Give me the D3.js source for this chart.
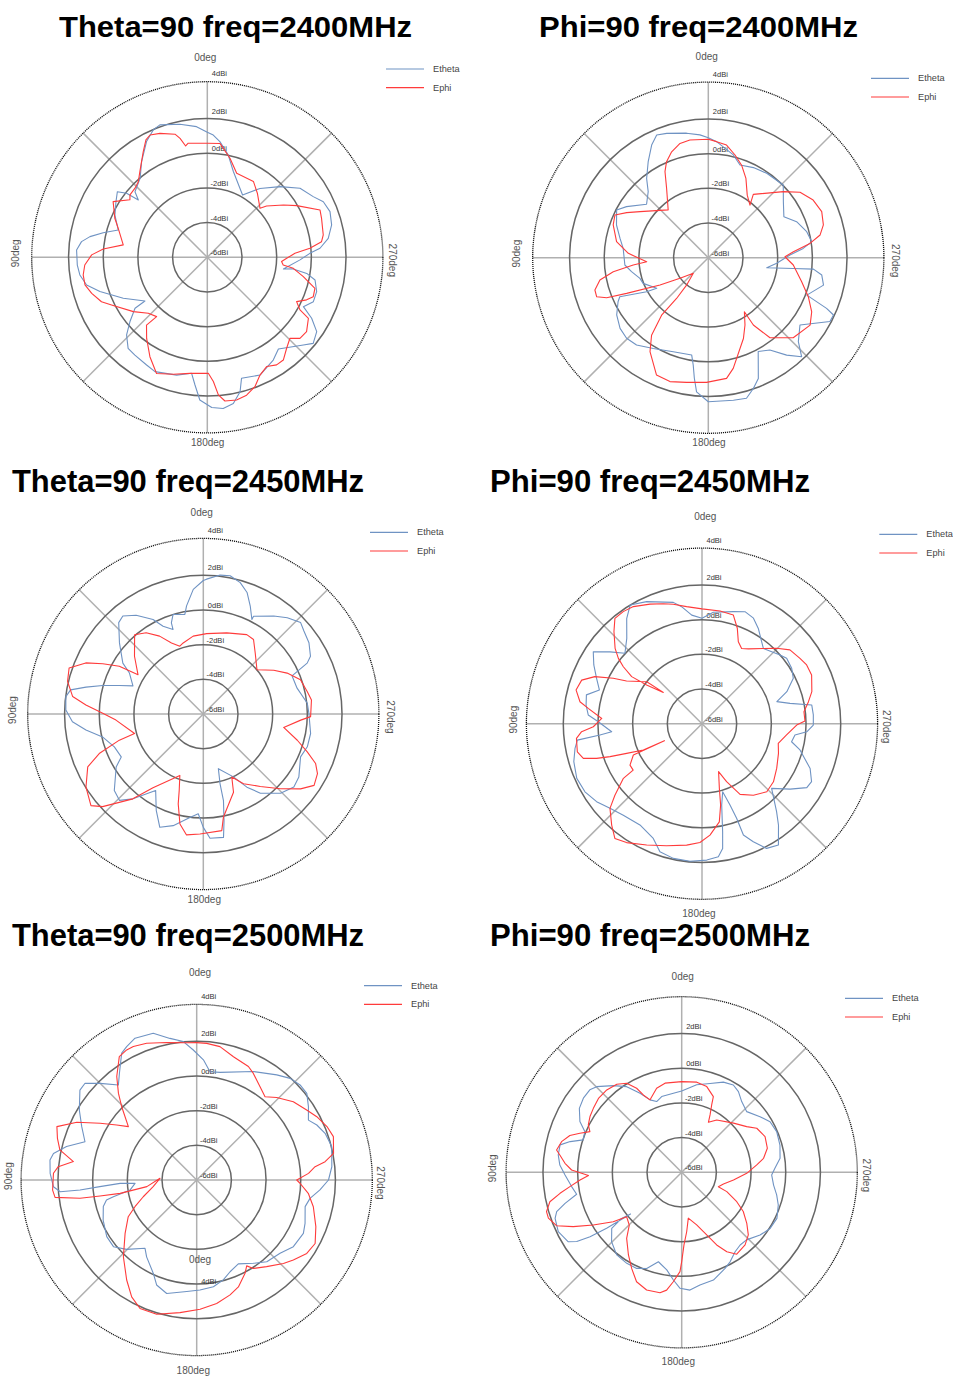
<!DOCTYPE html>
<html><head><meta charset="utf-8">
<script src="https://cdn.jsdelivr.net/npm/d3@7"></script>
<style>html,body{margin:0;padding:0;background:#fff}svg{display:block}</style>
</head><body>
<svg id="c" width="953" height="1376"></svg>
<script>
// ---------- data ----------
const ringLevels = [-6, -4, -2, 0, 2, 4];
const ringLabels = ["-6dBi", "-4dBi", "-2dBi", "0dBi", "2dBi", "4dBi"];
const spokeAngles = [0, 45, 90, 135, 180, 225, 270, 315];
const angleLabels = ["0deg", "90deg", "180deg", "270deg"];
const seriesNames = ["Etheta", "Ephi"];
const titles = ["Theta=90 freq=2400MHz", "Phi=90 freq=2400MHz", "Theta=90 freq=2450MHz",
                "Phi=90 freq=2450MHz", "Theta=90 freq=2500MHz", "Phi=90 freq=2500MHz"];

// [angle (deg, counter-clockwise from top), gain (dBi)]
const t2400_etheta = [[0,1.21],[4.7,1.56],[11.6,1.83],[19.7,2.11],[23,1.98],[27.7,1.54],[34.5,0.69],[40.4,-0.02],[47.8,-0.37],[50.3,-0.83],[51.6,-0.06],[53.9,0.42],[58.6,0.17],[65.4,-0.14],[73,-0.63],[76.7,0.17],[80,0.87],[82.9,1.31],[86.8,1.55],[93.4,1.51],[97.9,1.42],[102.9,1.14],[107.7,0.5],[116,-0.61],[125,-1.61],[125.2,-0.9],[129.8,-0.19],[133.9,0.46],[139,0.96],[143.5,1.02],[150.6,1.13],[155.4,1.25],[165.4,1.02],[172.3,0.75],[174.5,1.4],[177,2.24],[181.7,2.67],[186,2.77],[190.1,2.56],[193.7,1.98],[195.8,1.25],[204.1,1.44],[212.7,1.04],[217.8,0.69],[227.6,1.5],[230.9,1.87],[235.8,1.63],[239.7,0.97],[242.8,0.23],[247.3,0.63],[252.6,0.61],[258.1,0.35],[260.8,-0.19],[262.3,-1.0],[261.3,-1.56],[268.4,-0.65],[272.2,-0.08],[274.6,0.52],[278.9,1.06],[284.6,1.41],[290.4,1.55],[295.6,1.42],[299.8,1.04],[306.7,0.67],[314.2,-0.15],[322.6,-1.0],[330.5,-1.87],[334.7,-1.6],[343.1,-0.83],[348.4,0.02],[353.8,0.71],[357.2,1.06]];
const t2400_ephi = [[0,0.58],[9.5,0.67],[11,0.54],[12.9,1.04],[14.7,1.34],[20.9,1.65],[25.1,1.79],[27.6,1.64],[31.2,1.13],[38.2,0.29],[42.4,-0.1],[46.3,-0.23],[51.1,-0.27],[53.4,-0.44],[59.4,0.31],[67.1,-0.21],[72,-0.6],[81.6,-1.1],[85.4,0.02],[88.8,0.67],[93.6,1.08],[98.1,1.23],[102.7,1.23],[107.3,0.98],[112.8,0.62],[116.5,0.17],[126.3,-0.71],[133.5,-1.31],[139.5,-1.5],[138.1,-0.75],[143.2,-0.16],[150,0.62],[156.4,1.31],[163.8,1.02],[171.5,0.77],[180.5,0.69],[182.8,1.17],[184.6,1.96],[187,2.35],[191.6,2.4],[195.9,2.27],[200.2,1.95],[204.1,1.44],[208.5,1.17],[212.8,1.38],[216.5,1.37],[221.1,0.96],[225.6,0.67],[228.8,1.1],[233.2,1.15],[238.9,0.81],[240.4,0.15],[243.6,-0.25],[246.8,0.23],[249.6,0.52],[253.9,0.46],[258.6,-0.35],[262.7,-1.0],[264.2,-1.6],[266.7,-1.71],[269.3,-1.42],[272.6,-0.94],[275,-0.06],[277.8,0.65],[280.9,0.81],[288.8,0.96],[292.8,1.05],[300,-0.04],[304.5,-0.67],[310.9,-1.48],[312.9,-1.85],[322,-1.31],[328.7,-0.88],[340.7,-0.87],[347.1,-0.14],[353.6,0.6]];
const p2400_etheta = [[0,0.92],[3.9,1.1],[9.9,1.29],[18.5,1.56],[22.8,1.68],[26.7,1.27],[32,0.54],[37.9,-0.21],[42.3,-0.85],[49.1,-1.29],[58,-0.44],[62.5,-0.04],[70.4,-0.38],[77.7,-0.79],[83.7,-1.06],[95,-1.17],[100.3,-1.5],[106.8,-1.88],[111.5,-1.96],[120.7,-2.54],[118.9,-1.94],[113.8,-0.42],[116,-0.21],[122,0.23],[128.7,0.52],[134.6,0.62],[140.6,0.52],[148.8,0.12],[159.6,-0.21],[170.3,-0.31],[172,0.25],[173.4,1.0],[175,1.77],[180,2.31],[190,2.35],[195.2,2.4],[199,1.98],[202.5,1.54],[208,0.13],[213.7,0.4],[218.8,1.21],[223.3,1.85],[227,1.1],[233.7,0.56],[242.3,1.92],[245.4,1.94],[246.8,1.42],[249.2,0.08],[256.6,0.83],[261.3,0.62],[263.8,0.1],[262.8,-1.06],[260.3,-2.58],[265.3,-2.04],[271.9,-1.29],[275.6,-0.5],[278.8,0.04],[284.8,-0.13],[292.2,-0.5],[298.5,-1.04],[306.7,-0.6],[314.1,0.02],[325.3,-0.08],[333.4,-0.19],[341.1,-0.35],[346.3,0.1],[355.9,0.71]];
const p2400_ephi = [[0,0.83],[8.9,0.87],[13.9,0.79],[19.1,0.46],[23.5,0.04],[26.7,-0.44],[31,-1.33],[40,-2.4],[56,-1.25],[61.1,-0.62],[65.4,-0.08],[71,-0.2],[80.1,-0.63],[86.9,-1.38],[93.7,-2.44],[95.6,-1.65],[98.4,-0.46],[101.6,0.38],[105.9,0.8],[109.3,0.82],[111.5,0.3],[113.6,-0.86],[119.5,-2.8],[126.1,-3.98],[136.2,-4.75],[141.6,-3.98],[142.1,-3.02],[140.9,-1.73],[143.8,-0.46],[148.2,0.38],[156.2,1.4],[162.8,1.48],[170.1,1.3],[179.2,1.19],[188.6,1.04],[192.7,0.54],[203.5,-0.92],[208.6,-1.58],[213.7,-2.25],[213.8,-1.33],[217.6,-0.17],[226.7,0.73],[236.5,1.04],[242.4,0.73],[248.7,0.19],[255.6,-0.44],[265.1,-1.08],[270.7,-1.58],[274,-1.08],[278,-0.08],[281.5,0.58],[285.9,0.9],[292.1,1.06],[298.8,0.9],[305.5,0.5],[311.3,-0.23],[324.6,-1.52],[321.6,-2.13],[328.1,-1.75],[334.6,-0.94],[340.2,-0.33],[345.4,0.12],[350.8,0.58],[355.9,0.71]];
const t2450_etheta = [[0,1.7],[4.6,1.21],[8.8,0.31],[10.5,-0.16],[16.9,0.0],[19.3,-0.43],[19.7,-0.82],[24.6,-0.43],[28,0.17],[34.2,0.89],[39.4,1.31],[42.8,1.18],[49.7,0.34],[57.7,-0.51],[61,-1.13],[68.2,-1.63],[71.2,-0.89],[74.2,0.03],[77.1,0.94],[79.7,1.78],[82.8,1.99],[88.3,1.93],[93.4,1.56],[97.8,0.83],[102.8,-0.04],[110.3,-0.53],[117.6,-0.66],[121.3,-0.12],[130.7,0.77],[135.9,0.94],[140.3,0.36],[148.1,-0.8],[154,0.19],[159,1.0],[164.9,0.67],[172.6,0.02],[177.1,-0.24],[180,0.54],[183.1,1.18],[189.3,1.21],[191,0.27],[193.1,-0.87],[193.5,-1.86],[195.4,-2.73],[205.6,-1.98],[210.8,-1.09],[215.8,-0.37],[224.3,0.38],[231.1,0.71],[236.6,0.6],[246.2,0.13],[252.5,0.29],[259.7,0.29],[270.4,0.09],[275.9,0.03],[285.4,-0.39],[293.3,-0.43],[296.1,0.67],[298.3,1.02],[304,1.35],[309.5,1.52],[313.2,1.7],[318.9,1.37],[324.3,0.96],[332.8,0.34],[332.8,0.13],[336.5,0.79],[340.2,1.45],[344.3,1.87],[349,2.12],[353.1,2.07],[358.6,1.78]];
const t2450_ephi = [[357.6,-1.36],[7.4,-1.47],[15.8,-1.74],[19.1,-1.86],[24.1,-1.51],[29.3,-0.85],[35.1,-0.27],[40.9,0.05],[50,-0.82],[59,-1.61],[60.4,-0.43],[63.4,0.48],[66.5,1.39],[71.1,2.18],[76.5,2.05],[82.4,1.6],[85.6,0.79],[89.6,-0.2],[94,-0.95],[105.8,-1.88],[107.3,-0.93],[110.8,0.42],[114.6,1.33],[121.9,1.97],[129.2,2.36],[132.6,1.89],[140.3,0.36],[145.7,-0.85],[159.1,-2.21],[162.5,-1.38],[164.4,-0.62],[168,0.48],[172.1,1.04],[178.4,0.92],[189,0.81],[191,0.07],[201.1,-1.16],[204.3,-2.01],[210,-1.36],[218.2,-0.68],[225.9,0.19],[232.4,1.08],[237.2,1.6],[242.4,1.43],[246.2,1.08],[250,0.38],[254.4,-0.37],[260.5,-1.3],[266.4,-0.37],[268.6,0.19],[277.4,0.29],[282.2,0.13],[289.4,-0.06],[296,-0.62],[301.8,-1.22],[309.5,-1.99],[319.6,-1.38],[326,-0.82],[331.3,-0.78],[343.9,-1.13]];
const p2450_etheta = [[0,0.08],[5.4,0.29],[9.9,0.85],[13.3,1.19],[24.4,1.73],[31.2,2.0],[35.6,1.46],[41.4,0.56],[47.6,0.02],[52,0.73],[56.5,1.52],[61.5,1.1],[66.7,0.62],[71.8,0.23],[76,0.87],[80.9,0.77],[85.6,0.58],[88.9,-0.02],[95.1,-0.77],[96.3,-0.08],[97.5,1.25],[101,1.46],[106.5,1.71],[113.6,1.88],[120.2,1.81],[126.5,1.56],[132.6,1.21],[139.3,0.96],[148.5,0.85],[157,1.19],[161.8,1.77],[168,1.94],[175,1.96],[182,1.87],[187,1.73],[189.4,1.29],[190.8,0.35],[193.6,-1.17],[196.9,-1.9],[199,-1.04],[200.1,-0.19],[200.4,0.85],[203.5,1.42],[207.4,2.1],[212.2,2.27],[217,1.33],[220.3,0.65],[227.1,-0.52],[233.4,0.33],[238.6,1.08],[242.1,1.15],[247.5,0.75],[255,-0.15],[258.6,-0.73],[263.1,-0.6],[265.6,0.06],[269.3,0.42],[274.5,0.44],[279.7,0.42],[283,-0.79],[286.4,-1.5],[290.7,-0.77],[296.4,-0.12],[301.7,0.08],[307.7,0.17],[311.4,0.0],[320.8,-0.4],[324,-0.15],[329.4,0.38],[334,0.77],[339,0.92],[344.4,0.71],[354.2,0.46]];
const p2450_ephi = [[0,0.62],[7.5,0.81],[13.5,1.08],[17.9,1.27],[23.5,1.52],[30.4,1.83],[35.1,1.9],[39.6,1.88],[43.7,1.35],[49.1,0.63],[52,0.12],[54.1,-0.4],[56.2,-1.12],[55,-2.1],[51,-3.13],[52.8,-2.0],[60.5,-1.0],[62.9,-0.25],[66.3,0.75],[70.1,1.38],[75,1.52],[79.8,1.15],[82.3,0.62],[87,-0.21],[91.6,0.27],[93.8,0.96],[96.7,1.29],[102.7,1.37],[106.3,1.13],[108.2,0.4],[109.7,-0.37],[111.5,-1.33],[114.2,-2.29],[114.3,-3.62],[114.5,-1.65],[119.9,-1.21],[124,-1.21],[124.8,-0.48],[129.4,0.5],[132.6,1.21],[138.3,1.83],[142.8,2.31],[147.6,2.12],[155.5,1.69],[163.8,1.33],[172.8,1.06],[179,0.85],[184.1,0.44],[190,-0.25],[192.9,-1.19],[195,-2.13],[199.1,-3.08],[203,-2.37],[208.3,-1.37],[215.7,-0.92],[223.6,-0.58],[230.9,-0.69],[239.1,-0.98],[248.8,-1.27],[255.6,-1.46],[262.4,-1.08],[269.2,-0.54],[271.5,-0.06],[276.7,-0.08],[281.7,0.27],[286.3,0.6],[294,0.92],[299.3,0.92],[303.7,0.79],[310,0.62],[315.3,0.12],[320.8,-0.4],[328.2,-0.92],[332.2,-1.1],[336.1,-0.83],[339.7,-0.13],[343.9,0.52],[350.9,0.58]];
const t2500_etheta = [[1.5,1.5],[5.5,2.02],[10.7,2.31],[16.5,2.83],[23.5,2.92],[27.7,2.69],[30.6,2.5],[35.9,1.6],[39.5,1.1],[45,1.88],[49.1,2.52],[52.4,2.5],[59.2,1.88],[65.1,1.31],[71.1,0.81],[75.6,1.75],[79.5,2.4],[82.2,2.54],[87.4,2.46],[92.7,2.27],[94.9,1.9],[94.9,0.75],[93.9,-0.4],[92.5,-1.58],[93.1,-2.44],[98.5,-2.12],[101.3,-1.1],[102.5,-0.67],[105.9,-0.4],[113.2,-0.13],[122.2,0.13],[128.7,0.15],[134.7,-0.31],[142.9,-1.06],[146.9,-0.71],[155.1,-0.06],[159.1,0.48],[165.2,0.77],[174.9,0.46],[181.7,0.35],[188.9,0.23],[194.9,-0.04],[200,-0.37],[206.4,-0.6],[214.2,-0.19],[220.6,0.21],[228.7,0.4],[235.4,0.77],[243.4,0.88],[248.2,0.73],[256.2,0.44],[260.8,0.62],[265.4,1.13],[270,1.6],[275.6,1.83],[283.9,2.02],[290,1.88],[294.6,1.62],[298.2,1.31],[303.3,1.71],[308.2,2.08],[312.6,2.1],[317.4,1.96],[322.7,1.62],[332.4,1.06],[347.7,0.35],[353,0.29],[356.8,0.94]];
const t2500_ephi = [[0,1.92],[4.2,1.94],[12.3,2.12],[20.1,2.4],[25.4,2.52],[28.3,2.52],[32.1,2.4],[37.7,1.54],[42.1,0.73],[45.6,0.06],[52,-1.0],[55.5,-0.4],[59.6,0.46],[64.3,1.67],[69.1,2.63],[73.4,2.38],[77.6,2.08],[81.5,1.19],[84.5,2.02],[87.3,2.27],[94,2.33],[97,2.23],[98.9,0.81],[99.4,-0.35],[99.9,-1.52],[97.6,-3.1],[87.4,-3.88],[98.7,-3.46],[107.4,-2.77],[113.4,-2.12],[118.2,-1.52],[126.7,-0.85],[136.3,0.12],[145,1.04],[150.9,1.71],[156.2,2.1],[163.4,2.08],[172.8,1.71],[181.5,1.46],[189.2,1.21],[196.2,0.9],[201.3,0.62],[207.4,0.06],[210.2,-0.27],[212.7,0.06],[218.9,0.42],[226.1,0.94],[230.4,1.23],[236.3,1.63],[241.8,1.75],[248.6,1.38],[257.1,0.9],[263.2,0.48],[268.2,-0.04],[270,-0.23],[273.4,0.46],[276.4,0.87],[278.1,1.48],[281,2.04],[287.6,2.27],[292.3,2.12],[297.8,1.83],[302.5,1.52],[309,1.17],[315.9,0.63],[320.6,0.21],[325.8,0.5],[332,0.96],[335.5,1.19],[343.4,1.42],[350.1,1.81],[355.8,1.9]];
const p2500_etheta = [[0,-1.31],[6,-1.42],[14.8,-1.48],[19.5,-1.67],[23.6,-1.44],[27.8,-0.85],[32.7,-0.13],[38.3,0.37],[44.8,0.96],[48.1,1.12],[53,1.1],[58,0.96],[63.5,0.56],[67.2,0.06],[71.8,-0.02],[74.6,0.67],[77.3,1.19],[82,1.19],[86.6,1.04],[91.3,0.73],[97.4,0.4],[101.8,0.19],[104.9,0.96],[107.5,1.56],[110,1.77],[115.7,1.9],[121.5,1.67],[123.4,1.25],[125.1,0.46],[126.7,-0.6],[129.2,-2.19],[127.5,-1.63],[128.7,-0.83],[134.7,-0.31],[141.8,0.06],[148.9,0.13],[154.9,0.12],[160,-0.1],[165.4,-0.67],[171.3,-0.31],[175.6,0.23],[179.2,0.69],[184,0.81],[189.2,0.58],[196.4,0.48],[204.3,0.08],[208.4,-0.13],[213.9,-0.48],[218.8,-0.62],[223.8,-0.6],[231.3,-0.21],[237.6,0.04],[244.2,0.1],[251.3,-0.12],[256.6,-0.37],[262.1,-0.65],[268.3,-0.81],[272.5,-0.62],[278.1,-0.27],[285.5,-0.12],[293.2,-0.04],[299.8,-0.13],[305.4,-0.46],[313,-0.87],[319.7,-0.65],[324.9,-0.31],[329.4,-0.15],[335.2,-0.27],[342.3,-0.62],[350.3,-0.88]];
const p2500_ephi = [[0,-0.77],[10.6,-0.77],[16.6,-0.94],[23.6,-1.44],[26.4,-1.02],[28.2,-0.5],[31.7,0.04],[36.4,0.31],[42.3,0.42],[48.4,0.42],[54.1,0.29],[58.7,0.19],[63.1,0.04],[66.1,-0.21],[69,0.29],[71.8,0.79],[75.7,1.15],[79.9,1.33],[81.9,1.1],[85.6,0.75],[88.8,0.35],[92,-0.62],[94.3,-0.12],[97.3,0.5],[99.8,1.12],[102.6,1.79],[106.2,2.12],[109,2.13],[113.1,1.85],[116.6,1.0],[120.8,-0.06],[125.8,-1.13],[128.9,-1.92],[135.2,-1.71],[140.2,-1.04],[147.2,-0.33],[152.5,0.25],[157.6,0.83],[163.4,1.08],[169.8,1.06],[172.7,0.85],[175.6,0.33],[179,-0.27],[180,-0.85],[181.8,-1.81],[184.8,-2.56],[188.2,-3.33],[195.9,-2.85],[201.8,-2.12],[205.7,-1.35],[209.6,-0.73],[213.9,-0.31],[221.1,-0.44],[226.8,-0.73],[231.9,-1.23],[237.5,-1.79],[241.9,-2.4],[246.8,-3.17],[248.6,-3.73],[254.4,-3.5],[261.6,-2.98],[269.1,-2.25],[275.6,-1.65],[279.7,-1.21],[285.7,-0.87],[293.2,-0.77],[300.4,-0.98],[305.1,-1.42],[313.5,-1.88],[326.2,-2.37],[331.9,-2.73],[333.7,-2.31],[336,-1.75],[337.3,-1.27],[343.7,-0.85],[350.5,-0.73]];

// ---------- layout ----------
const panels = [
  {title: titles[0], etheta: t2400_etheta, ephi: t2400_ephi, cx: 207.3, cy: 257.3, lgx: 386, lgy: 69,
   tx: 59, ty: 36.5, tw: 353, ts: 29, lt: -200, lb: 185, lr: 185.4, ll: -192, ltx: -2, lbx: 0.4, show4: true},
  {title: titles[1], etheta: p2400_etheta, ephi: p2400_ephi, cx: 708.3, cy: 257.7, lgx: 871, lgy: 78.3,
   tx: 539, ty: 36.5, tw: 319, ts: 29, lt: -201, lb: 184.6, lr: 186.7, ll: -191.6, ltx: -1.6, lbx: 0.7, show4: true},
  {title: titles[2], etheta: t2450_etheta, ephi: t2450_ephi, cx: 203.3, cy: 714, lgx: 370, lgy: 532.3,
   tx: 12, ty: 492.3, tw: 352, ts: 32, lt: -201.3, lb: 185, lr: 186.7, ll: -191, ltx: -1.6, lbx: 1, show4: true},
  {title: titles[3], etheta: p2450_etheta, ephi: p2450_ephi, cx: 702, cy: 723.7, lgx: 879.3, lgy: 534.3,
   tx: 490, ty: 492.3, tw: 320, ts: 32, lt: -207, lb: 189.5, lr: 184.7, ll: -188.7, ltx: 3.3, lbx: -3, show4: true},
  {title: titles[4], etheta: t2500_etheta, ephi: t2500_ephi, cx: 196.7, cy: 1180, lgx: 364, lgy: 985.7,
   tx: 12, ty: 946, tw: 352, ts: 32, lt: -207.3, lb: 190, lr: 183.3, ll: -188.4, ltx: 3.3, lbx: -3.4, show4: true, extra: true},
  {title: titles[5], etheta: p2500_etheta, ephi: p2500_ephi, cx: 681.7, cy: 1172.3, lgx: 845, lgy: 998.3,
   tx: 490, ty: 946, tw: 320, ts: 32, lt: -195.6, lb: 189.4, lr: 185, ll: -189, ltx: 1, lbx: -3.4, show4: false}
];

const colors = {Etheta: "#6f93c3", Ephi: "#ff3b3b"};
const FONT = "'Liberation Sans', Arial, sans-serif";

const svg = d3.select("#c");
const rScale = d3.scaleLinear().domain([-6, 4]).range([0, 173.4]);
const aScale = d3.scaleLinear().domain([0, 360]).range([0, 2 * Math.PI]);
const outerR = rScale(4) + 2.2;

const radial = d3.lineRadial()
  .angle(d => -aScale(d[0]))
  .radius(d => rScale(d[1]))
  .curve(d3.curveLinearClosed);

panels.forEach(p => {
  // title
  svg.append("text").attr("x", p.tx).attr("y", p.ty)
    .attr("font-family", FONT).attr("font-weight", "bold").attr("font-size", p.ts)
    .attr("textLength", p.tw).attr("lengthAdjust", "spacingAndGlyphs")
    .attr("fill", "#000").text(p.title);

  const g = svg.append("g").attr("transform", `translate(${p.cx},${p.cy})`);

  // spokes
  g.selectAll("line.spoke").data(spokeAngles).join("line").attr("class", "spoke")
    .attr("x1", 0).attr("y1", 0)
    .attr("x2", d => -Math.sin(aScale(d)) * outerR)
    .attr("y2", d => -Math.cos(aScale(d)) * outerR)
    .attr("stroke", "#b0b0b0").attr("stroke-width", 1.5);

  // solid rings
  g.selectAll("circle.ring").data(ringLevels.filter(v => v > -6 && v < 4)).join("circle")
    .attr("class", "ring").attr("r", d => rScale(d))
    .attr("fill", "none").attr("stroke", "#666").attr("stroke-width", 1.5);
  // outer dotted ring
  g.append("circle").attr("r", outerR).attr("fill", "none")
    .attr("stroke", "#111").attr("stroke-width", 1.3).attr("stroke-dasharray", "1.1,0.9");

  // ring labels
  const lv = ringLevels.map((v, i) => ({v, t: ringLabels[i]})).filter(d => p.show4 || d.v < 4);
  g.selectAll("text.rl").data(lv).join("text").attr("class", "rl")
    .attr("x", 12).attr("y", d => -(rScale(d.v) + 4.5 + Math.max(0, d.v) * 1.4))
    .attr("text-anchor", "middle").attr("dominant-baseline", "central")
    .attr("font-family", FONT).attr("font-size", 7.5).attr("fill", "#333")
    .text(d => d.t);

  // angle labels
  const al = g.append("g").attr("font-family", FONT).attr("font-size", 10).attr("fill", "#555")
    .attr("text-anchor", "middle").attr("dominant-baseline", "central");
  al.append("text").attr("x", p.ltx).attr("y", p.lt).text(angleLabels[0]);
  al.append("text").attr("transform", `translate(${p.ll},-4) rotate(-90)`).text(angleLabels[1]);
  al.append("text").attr("x", p.lbx).attr("y", p.lb).text(angleLabels[2]);
  al.append("text").attr("transform", `translate(${p.lr},3) rotate(90)`).text(angleLabels[3]);

  if (p.extra) {
    al.append("text").attr("x", 3.3).attr("y", 79.3).text(angleLabels[0]);
    g.append("text").attr("x", 12).attr("y", 101).attr("text-anchor", "middle")
      .attr("dominant-baseline", "central").attr("font-family", FONT)
      .attr("font-size", 7.5).attr("fill", "#333").text(ringLabels[5]);
  }

  // curves
  g.append("path").attr("d", radial(p.etheta)).attr("fill", "none")
    .attr("stroke", colors.Etheta).attr("stroke-width", 1.1).attr("stroke-linejoin", "round");
  g.append("path").attr("d", radial(p.ephi)).attr("fill", "none")
    .attr("stroke", colors.Ephi).attr("stroke-width", 1.1).attr("stroke-linejoin", "round");

  // legend
  const lg = svg.append("g").attr("transform", `translate(${p.lgx},${p.lgy})`);
  seriesNames.forEach((s, i) => {
    lg.append("line").attr("x1", 0).attr("x2", 38).attr("y1", i * 18.7).attr("y2", i * 18.7)
      .attr("stroke", colors[s]).attr("stroke-width", 1.2);
    lg.append("text").attr("x", 47).attr("y", i * 18.7).attr("dominant-baseline", "central")
      .attr("font-family", FONT).attr("font-size", 9.2).attr("fill", "#444").text(s);
  });
});
</script>
</body></html>
